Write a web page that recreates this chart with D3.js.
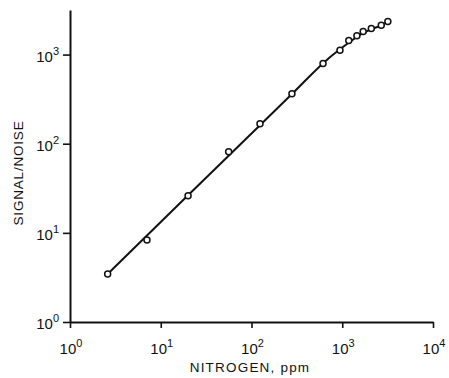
<!DOCTYPE html>
<html><head><meta charset="utf-8">
<script src="https://cdn.jsdelivr.net/npm/d3@7"></script>
<style>body{margin:0;background:#fff}svg{display:block}text{font-family:"Liberation Sans",Arial,sans-serif;fill:#111}</style>
</head><body><svg id="c" width="449" height="378"></svg>
<script>
const nitrogenPpm = [2.6, 7.05, 20, 56, 124, 279, 614, 944, 1180, 1450, 1700, 2090, 2690, 3180];
const signalNoise = [3.46, 8.3, 26, 81, 168, 364, 794, 1120, 1437, 1630, 1810, 1960, 2130, 2350];
const fitX = [2.6, 20, 124, 279, 700, 1000, 1250, 1600, 2100, 2700, 3180];
const fitY = [3.46, 26.4, 161, 361, 900, 1200, 1420, 1680, 1930, 2130, 2350];
const xTickExp = [0, 1, 2, 3, 4];
const yTickExp = [0, 1, 2, 3];
const xTitle = "NITROGEN, ppm";
const yTitle = "SIGNAL/NOISE";

const svg = d3.select("#c");
const x = d3.scaleLog().domain([1, 1e4]).range([70, 433]);
const y = d3.scaleLog().domain([1, Math.pow(10, 3.5)]).range([322, 10]);

const gx = svg.append("g").attr("transform", "translate(0,322)")
  .call(d3.axisBottom(x).tickValues(xTickExp.map(e => Math.pow(10, e))).tickFormat("").tickSize(6).tickSizeOuter(0));
const gy = svg.append("g").attr("transform", "translate(70,0)")
  .call(d3.axisLeft(y).tickValues(yTickExp.map(e => Math.pow(10, e))).tickFormat("").tickSize(7).tickSizeOuter(0));
[gx, gy].forEach(g => { g.select(".domain").attr("stroke", "#111").attr("stroke-width", 2); g.selectAll(".tick line").attr("stroke", "#111").attr("stroke-width", 1.6); });

function powLabel(sel, e) {
  sel.append("tspan").text("10");
  sel.append("tspan").attr("dy", -7).attr("font-size", 11).text(e);
}
xTickExp.forEach(e => {
  svg.append("text").attr("x", x(Math.pow(10, e)) + 1).attr("y", 354).attr("text-anchor", "middle")
    .attr("font-size", 15).call(s => powLabel(s, e));
});
yTickExp.forEach(e => {
  svg.append("text").attr("x", 59).attr("y", y(Math.pow(10, e)) + 7).attr("text-anchor", "end")
    .attr("font-size", 15).call(s => powLabel(s, e));
});

svg.append("text").attr("x", 250).attr("y", 372).attr("text-anchor", "middle").attr("font-size", 13.5)
  .attr("letter-spacing", 1.2).text(xTitle);
svg.append("text").attr("transform", "translate(23,173) rotate(-90)").attr("text-anchor", "middle")
  .attr("font-size", 13.5).attr("letter-spacing", 0.8).text(yTitle);

const fit = fitX.map((v, i) => [v, fitY[i]]);
svg.append("path").datum(fit)
  .attr("d", d3.line().x(d => x(d[0])).y(d => y(d[1])).curve(d3.curveMonotoneX))
  .attr("fill", "none").attr("stroke", "#111").attr("stroke-width", 2);

svg.selectAll("circle.pt").data(nitrogenPpm.map((v, i) => [v, signalNoise[i]])).enter()
  .append("circle").attr("class", "pt").attr("cx", d => x(d[0])).attr("cy", d => y(d[1])).attr("r", 3)
  .attr("fill", "#fff").attr("stroke", "#111").attr("stroke-width", 1.5);
</script></body></html>
